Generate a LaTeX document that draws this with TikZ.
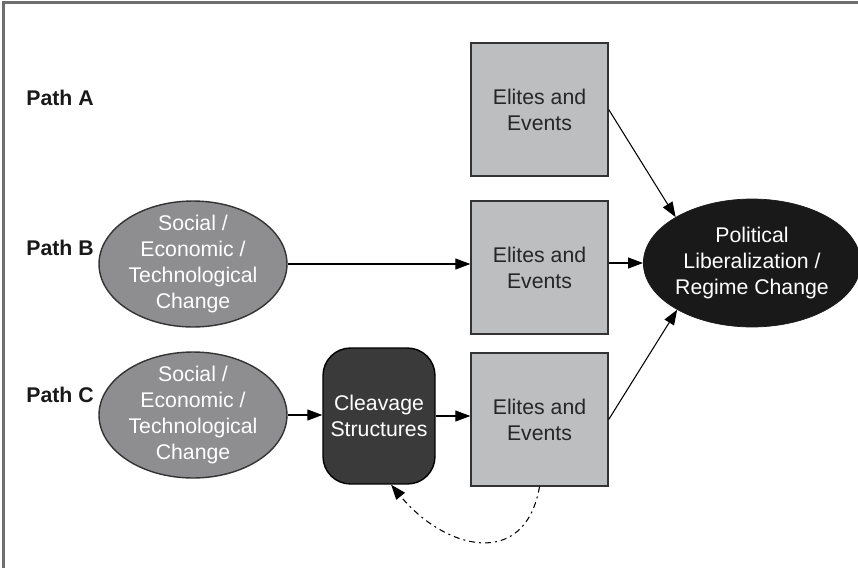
\documentclass[tikz,border=0pt]{standalone}
\usepackage{fontspec}
\setmainfont{Liberation Sans}
\usetikzlibrary{shapes.geometric,arrows.meta}
\definecolor{boxgray}{RGB}{189,190,192}
\definecolor{midgray}{RGB}{142,142,144}
\definecolor{darkbox}{RGB}{58,58,58}
\definecolor{framegray}{RGB}{110,110,110}
\begin{document}
\begin{tikzpicture}[>={Triangle[length=3mm,width=2.2mm]},x=0.02cm,y=-0.02cm,
  every node/.style={font=\fontsize{12.1}{14.8}\selectfont},
  pathlabel/.style={font=\fontsize{12.1}{14.8}\selectfont\bfseries,text=black!90},
  change/.style={ellipse,draw=black!80,line width=0.8pt,fill=midgray,text=white,align=center,
    inner xsep=0pt,inner ysep=-5pt,minimum width=3.76cm,minimum height=2.52cm},
  elites/.style={rectangle,draw=black!80,line width=0.8pt,fill=boxgray,text=black!85,align=center,
    minimum width=2.74cm,minimum height=2.66cm},
  cleavage/.style={rectangle,rounded corners=0.55cm,draw=black,line width=0.8pt,fill=darkbox,
    text=white,align=center,minimum width=2.24cm,minimum height=2.72cm},
  outcome/.style={ellipse,draw=black!90,fill=black!90,text=white,align=center,inner sep=0pt,
    minimum width=4.04cm,minimum height=2.56cm},
  link/.style={->,line width=0.6pt}]
  \useasboundingbox (0,0) rectangle (858,568);
  % frame
  \draw[framegray,line width=1.2pt] (3.5,568) -- (3.5,2.5) -- (858,2.5);
  % path labels
  \node[pathlabel] (pA) at (60,98)  {Path A};
  \node[pathlabel] (pB) at (60,248) {Path B};
  \node[pathlabel] (pC) at (60,395) {Path C};
  % elites and events
  \node[elites] (elA) at (539.5,109.5) {Elites and\\Events};
  \node[elites] (elB) at (539.5,267.5) {Elites and\\Events};
  \node[elites] (elC) at (539.5,419.5) {Elites and\\Events};
  % change
  \node[change] (chB) at (193,264) {Social /\\Economic /\\Technological\\Change};
  \node[change] (chC) at (193,415) {Social /\\Economic /\\Technological\\Change};
  \node[cleavage] (clv) at (379,416) {Cleavage\\Structures};
  % outcome
  \node[outcome] (pol) at (752,263) {Political\\Liberalization /\\Regime Change};
  % arrows
  \draw[link] (elA.east) -- (pol.149);
  \draw[link] (chB.east) -- (chB.east -| elB.west);
  \draw[link] (pol.west -| elB.east) -- (pol.west);
  \draw[link] (chC.east) -- (chC.east -| clv.west);
  \draw[link] (clv.east) -- (clv.east -| elC.west);
  \draw[link] (elC.east) -- (pol.212);
  % feedback
  \draw[link,dash pattern=on 3.4pt off 2.3pt on 1.1pt off 2.3pt]
    (elC.south) .. controls (525,570) and (445,550) .. (clv.-80);
\end{tikzpicture}
\end{document}
